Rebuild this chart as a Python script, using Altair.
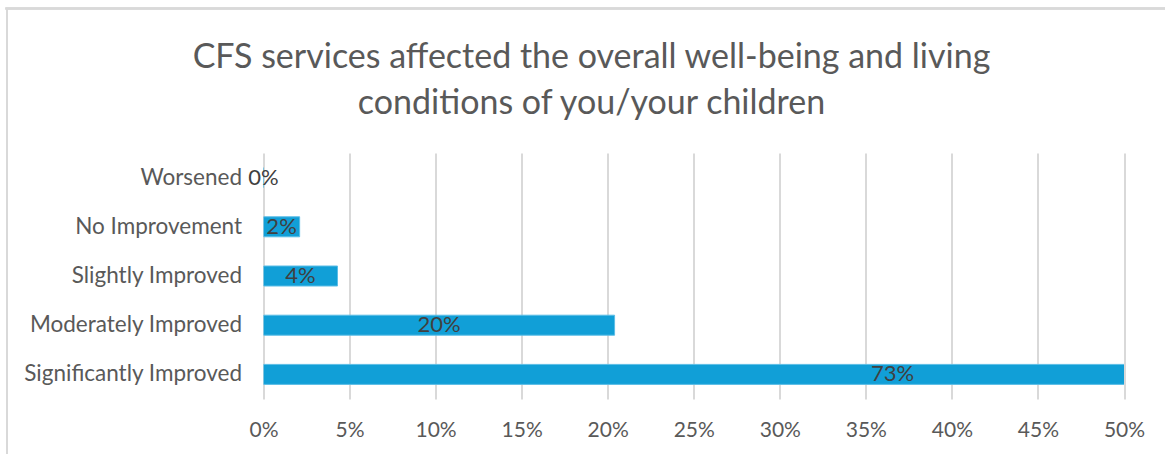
import altair as alt
import pandas as pd

categories = ["Worsened", "No Improvement", "Slightly Improved", "Moderately Improved", "Significantly Improved"]
values = [0.0, 2.1, 4.3, 20.4, 73.1]
labels = ["0%", "2%", "4%", "20%", "73%"]
x_ticks = [0, 5, 10, 15, 20, 25, 30, 35, 40, 45, 50]

FONT = "Lato, sans-serif"
GREY = "#595959"

df = pd.DataFrame({"category": categories, "value": values, "label": labels})

base = alt.Chart(df)

x_scale = alt.Scale(domain=[0, 50], nice=False, zero=True)
y_enc = alt.Y("category:N", sort=categories, title=None,
              scale=alt.Scale(paddingInner=0.0, paddingOuter=0.0),
              axis=alt.Axis(labelFont=FONT, labelFontSize=22.5, labelColor=GREY,
                            labelPadding=22, ticks=False, domain=False, grid=False,
                            labelLimit=400))

bars = base.mark_bar(color="#119FD7", stroke="#5CBDE6", strokeWidth=1, size=20, clip=True).encode(
    x=alt.X("value:Q", scale=x_scale, title=None,
            axis=alt.Axis(values=x_ticks, labelExpr="datum.value + '%'",
                          labelFont=FONT, labelFontSize=21, labelColor=GREY,
                          labelPadding=20, labelFlush=False, ticks=False, domain=False,
                          grid=True, gridColor="#D9D9D9", gridWidth=2)),
    y=y_enc,
)

text = base.transform_calculate(mid="datum.value / 2").mark_text(
    font=FONT, fontSize=22, color="#404040", align="center", baseline="middle"
).encode(
    x=alt.X("mid:Q", scale=x_scale),
    y=alt.Y("category:N", sort=categories),
    text="label:N",
)

frame_left = base.mark_rule(color="#D9D9D9", strokeWidth=2).encode(
    x=alt.value(-256.5), y=alt.value(-145), y2=alt.value(310))
frame_top = base.mark_rule(color="#D9D9D9", strokeWidth=2).encode(
    x=alt.value(-258), x2=alt.value(910), y=alt.value(-144.5))

chart = alt.layer(frame_left, frame_top, bars, text).properties(
    width=860.5,
    height=246,
    background="white",
    title=alt.TitleParams(
        text=["CFS services affected the overall well-being and living",
              "conditions of you/your children"],
        font=FONT, fontSize=34, fontWeight="normal", color=GREY,
        anchor="middle", frame="bounds", baseline="bottom", dx=2, dy=148,
        lineHeight=46, offset=0,
    ),
    autosize=alt.AutoSizeParams(type="none"),
    padding={"left": 263.5, "top": 153, "right": 41, "bottom": 55},
).configure_view(strokeOpacity=0, strokeWidth=0)

chart.save("out.html", embed_options={"renderer": "svg", "actions": False})
